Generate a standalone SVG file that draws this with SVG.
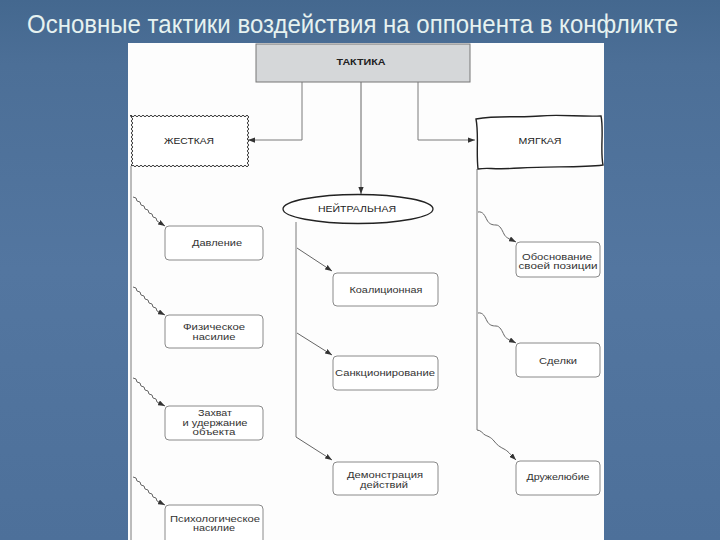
<svg xmlns="http://www.w3.org/2000/svg" width="720" height="540" viewBox="0 0 720 540">
<defs>
<linearGradient id="bg" x1="0" y1="0" x2="0" y2="1">
<stop offset="0" stop-color="#44688f"/>
<stop offset="0.12" stop-color="#4c6f97"/>
<stop offset="0.5" stop-color="#5376a0"/>
<stop offset="1" stop-color="#4d709a"/>
</linearGradient>
<marker id="arr" viewBox="0 0 8 6" refX="8" refY="3" markerWidth="7" markerHeight="5.5" markerUnits="userSpaceOnUse" orient="auto">
<path d="M0,0 L8,3 L0,6 z" fill="#333"/>
</marker>
<style>
.t{font-family:"Liberation Sans",Arial,sans-serif;font-size:9px;fill:#333;text-anchor:middle}
.cap{font-family:"Liberation Sans",Arial,sans-serif;font-size:8.5px;fill:#222;text-anchor:middle}
.box{fill:#fff;stroke:#8a8a8a;stroke-width:1}
.ln{fill:none;stroke:#7a7a7a;stroke-width:1}
.ca{fill:none;stroke:#666;stroke-width:1;marker-end:url(#arr)}
</style>
</defs>
<rect width="720" height="540" fill="url(#bg)"/>
<text x="27" y="33" font-family="'Liberation Sans',Arial,sans-serif" font-size="25" fill="#e6f2f0" textLength="651" lengthAdjust="spacingAndGlyphs">Основные тактики воздействия на оппонента в конфликте</text>
<rect x="128" y="43" width="476" height="497" fill="#fdfdfd"/>

<g id="connectors">
<path class="ln" d="M302,82 V140 H248" marker-end="url(#arr)" stroke="#666"/>
<path class="ca" d="M361,82 V194"/>
<path class="ln" d="M418,82 V140 H475" marker-end="url(#arr)" stroke="#666"/>
<path class="ln" d="M131,166 V540"/>
<path class="ca" d="M133,197 l3,1 l1,3 l3,1 l1,3 l3,1 l1,3 l3,1 l1,3 l3,1 l1,3 l3,1 l1,3 l8,5"/>
<path class="ca" d="M133,287 l3,1 l1,3 l3,1 l1,3 l3,1 l1,3 l3,1 l1,3 l3,1 l1,3 l3,1 l1,3 l8,4"/>
<path class="ca" d="M133,378 l3,1 l1,3 l3,1 l1,3 l3,1 l1,3 l3,1 l1,3 l3,1 l1,3 l3,1 l1,3 l8,4"/>
<path class="ca" d="M133,477 l3,1 l1,3 l3,1 l1,3 l3,1 l1,3 l3,1 l1,3 l3,1 l1,3 l3,1 l1,3 l8,4"/>
<path class="ln" d="M296,222 V437"/>
<path class="ca" d="M297,248 L332,271"/>
<path class="ca" d="M297,333 L332,355"/>
<path class="ca" d="M296,437 L332,460"/>
<path class="ln" d="M477,169 V430"/>
<path class="ca" d="M478,212 c5,-1 7,4 9,8 s5,5 9,5 s6,5 8,9 s4,4 12,8"/>
<path class="ca" d="M478,313 c5,-1 7,4 9,8 s5,5 9,5 s6,5 8,9 s4,4 12,8"/>
<path class="ca" d="M477,430 c4,0 6,4 8,5 s6,2 9,6 s6,6 10,8 s6,5 12,11"/>
</g>

<g id="node-taktika">
<rect x="256" y="44" width="214" height="38" fill="#d5d7d9" stroke="#777" stroke-width="1"/>
<text class="cap" x="361" y="65" font-weight="bold" textLength="49" lengthAdjust="spacingAndGlyphs">ТАКТИКА</text>
</g>

<g id="node-zhestkaya">
<path fill="#fff" stroke="#333" stroke-width="1" d="M130,116 q1,-1.6 2,0 t2,0 2,0 2,0 2,0 2,0 2,0 2,0 2,0 2,0 2,0 2,0 2,0 2,0 2,0 2,0 2,0 2,0 2,0 2,0 2,0 2,0 2,0 2,0 2,0 2,0 2,0 2,0 2,0 2,0 2,0 2,0 2,0 2,0 2,0 2,0 2,0 2,0 2,0 2,0 2,0 2,0 2,0 2,0 2,0 2,0 2,0 2,0 2,0 2,0 2,0 2,0 2,0 2,0 2,0 2,0 2,0 2,0 2,0 q1.6,1 0,2 t0,2 0,2 0,2 0,2 0,2 0,2 0,2 0,2 0,2 0,2 0,2 0,2 0,2 0,2 0,2 0,2 0,2 0,2 0,2 0,2 0,2 0,2 0,2 0,2 q-1,1.6 -2,0 t-2,0 -2,0 -2,0 -2,0 -2,0 -2,0 -2,0 -2,0 -2,0 -2,0 -2,0 -2,0 -2,0 -2,0 -2,0 -2,0 -2,0 -2,0 -2,0 -2,0 -2,0 -2,0 -2,0 -2,0 -2,0 -2,0 -2,0 -2,0 -2,0 -2,0 -2,0 -2,0 -2,0 -2,0 -2,0 -2,0 -2,0 -2,0 -2,0 -2,0 -2,0 -2,0 -2,0 -2,0 -2,0 -2,0 -2,0 -2,0 -2,0 -2,0 -2,0 -2,0 -2,0 -2,0 -2,0 -2,0 -2,0 q-1.6,-1 0,-2 t0,-2 0,-2 0,-2 0,-2 0,-2 0,-2 0,-2 0,-2 0,-2 0,-2 0,-2 0,-2 0,-2 0,-2 0,-2 0,-2 0,-2 0,-2 0,-2 0,-2 0,-2 0,-2 0,-2 0,-2 z"/>
<text class="cap" x="189" y="144" fill="#444" textLength="50" lengthAdjust="spacingAndGlyphs">ЖЕСТКАЯ</text>
</g>

<g id="node-myagkaya">
<path fill="#fff" stroke="#222" stroke-width="1.4" d="M476,119 C500,115 520,118 540,116 S580,117 601,116 C604,130 600,150 603,165 C580,168 550,166 520,168 S490,167 478,169 C476,150 479,135 476,119 Z"/>
<text class="cap" x="540" y="144" textLength="43" lengthAdjust="spacingAndGlyphs">МЯГКАЯ</text>
</g>

<g id="node-neytralnaya">
<ellipse cx="358" cy="209" rx="75" ry="14.5" fill="#fff" stroke="#222" stroke-width="1.3"/>
<text class="cap" x="357" y="212" textLength="78" lengthAdjust="spacingAndGlyphs">НЕЙТРАЛЬНАЯ</text>
</g>

<g id="node-davlenie">
<rect class="box" x="165" y="226" width="98" height="34" rx="4"/>
<text class="t" x="217" y="246" textLength="50" lengthAdjust="spacingAndGlyphs">Давление</text>
</g>
<g id="node-fizicheskoe">
<rect class="box" x="165" y="315" width="98" height="33" rx="4"/>
<text class="t" x="214" y="330" textLength="62" lengthAdjust="spacingAndGlyphs">Физическое</text>
<text class="t" x="214" y="340" textLength="43" lengthAdjust="spacingAndGlyphs">насилие</text>
</g>
<g id="node-zakhvat">
<rect class="box" x="165" y="406" width="98" height="34" rx="4"/>
<text class="t" x="215" y="416" textLength="34" lengthAdjust="spacingAndGlyphs">Захват</text>
<text class="t" x="215" y="426" textLength="65" lengthAdjust="spacingAndGlyphs">и удержание</text>
<text class="t" x="214" y="435" textLength="43" lengthAdjust="spacingAndGlyphs">объекта</text>
</g>
<g id="node-psikhologicheskoe">
<rect class="box" x="165" y="505" width="98" height="40" rx="4"/>
<text class="t" x="215" y="522" textLength="90" lengthAdjust="spacingAndGlyphs">Психологическое</text>
<text class="t" x="214" y="531" textLength="42" lengthAdjust="spacingAndGlyphs">насилие</text>
</g>

<g id="node-koalitsionnaya">
<rect class="box" x="333" y="273" width="105" height="33" rx="4"/>
<text class="t" x="386" y="293" textLength="73" lengthAdjust="spacingAndGlyphs">Коалиционная</text>
</g>
<g id="node-sanktsionirovanie">
<rect class="box" x="333" y="356" width="105" height="34" rx="4"/>
<text class="t" x="385" y="376" textLength="100" lengthAdjust="spacingAndGlyphs">Санкционирование</text>
</g>
<g id="node-demonstratsiya">
<rect class="box" x="333" y="462" width="105" height="33" rx="4"/>
<text class="t" x="385" y="478" textLength="76" lengthAdjust="spacingAndGlyphs">Демонстрация</text>
<text class="t" x="384" y="488" textLength="48" lengthAdjust="spacingAndGlyphs">действий</text>
</g>

<g id="node-obosnovanie">
<rect class="box" x="516" y="242" width="84" height="35" rx="4"/>
<text class="t" x="557" y="260" textLength="70" lengthAdjust="spacingAndGlyphs">Обоснование</text>
<text class="t" x="558" y="269" textLength="79" lengthAdjust="spacingAndGlyphs">своей позиции</text>
</g>
<g id="node-sdelki">
<rect class="box" x="516" y="343" width="84" height="34" rx="4"/>
<text class="t" x="558" y="364" textLength="38" lengthAdjust="spacingAndGlyphs">Сделки</text>
</g>
<g id="node-druzhelyubie">
<rect class="box" x="516" y="461" width="84" height="34" rx="4"/>
<text class="t" x="558" y="480" textLength="63" lengthAdjust="spacingAndGlyphs">Дружелюбие</text>
</g>
</svg>
